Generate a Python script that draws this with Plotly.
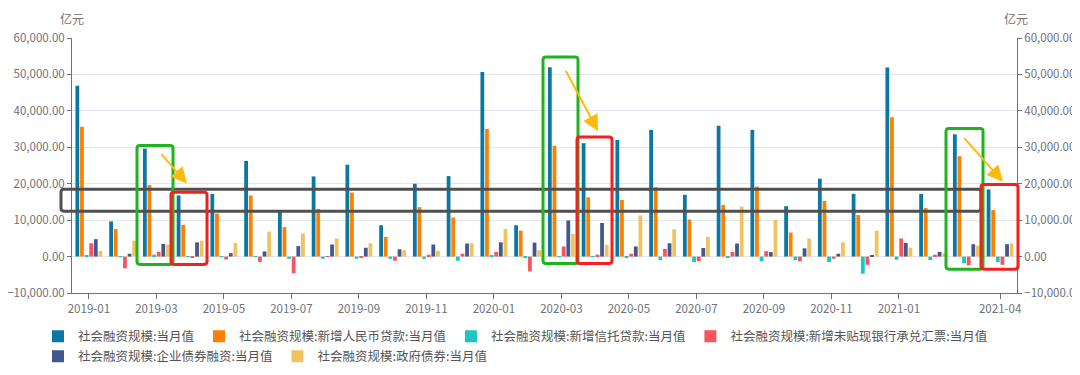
import plotly.graph_objects as go

months = ["2019-01", "2019-02", "2019-03", "2019-04", "2019-05", "2019-06", "2019-07",
          "2019-08", "2019-09", "2019-10", "2019-11", "2019-12", "2020-01", "2020-02",
          "2020-03", "2020-04", "2020-05", "2020-06", "2020-07", "2020-08", "2020-09",
          "2020-10", "2020-11", "2020-12", "2021-01", "2021-02", "2021-03", "2021-04"]

tsf = [46900, 9650, 29650, 16780, 17200, 26260, 12780, 22000, 25220, 8600, 20000, 22090,
       50700, 8600, 52000, 31130, 32000, 34780, 16960, 35910, 34780, 13830, 21390, 17220,
       51910, 17220, 33570, 18430]
rmb_loans = [35650, 7570, 19650, 8700, 11830, 16780, 8090, 13040, 17570, 5390, 13560, 10700,
             35040, 7130, 30430, 16260, 15570, 19040, 10170, 14170, 19220, 6610, 15300, 11390,
             38260, 13300, 27570, 12780]
trust_loans = [350, -40, 520, -100, -100, -50, -600, -600, -600, -600, -600, -1130,
               350, -430, -50, -40, -260, -960, -1480, -260, -1300, -960, -1480, -4700,
               -870, -960, -1830, -1480]
bank_bills = [3650, -3220, 1300, -300, -800, -1480, -4610, 150, -400, -1130, 520, 780,
              1300, -4090, 2780, 520, 780, 2090, -1220, 1300, 1480, -1300, -600, -2260,
              4960, 520, -2430, -2260]
corp_bonds = [4780, 780, 3480, 3900, 950, 1390, 2870, 3300, 2430, 2000, 3300, 3570,
              3910, 3830, 9910, 9220, 2780, 3650, 2350, 3570, 1220, 2260, 780, 430,
              3740, 1300, 3390, 3390]
gov_bonds = [1570, 4350, 3300, 4350, 3740, 6870, 6350, 4960, 3650, 1740, 1570, 3650,
             7570, 1740, 6260, 3220, 11300, 7480, 5390, 13740, 10090, 4960, 3910, 7130,
             2430, 870, 2960, 3650]

series_names = ["社会融资规模:当月值", "社会融资规模:新增人民币贷款:当月值",
                "社会融资规模:新增信托贷款:当月值", "社会融资规模:新增未贴现银行承兑汇票:当月值",
                "社会融资规模:企业债券融资:当月值", "社会融资规模:政府债券:当月值"]
series_values = [tsf, rmb_loans, trust_loans, bank_bills, corp_bonds, gov_bonds]
colors = ["#0A78A3", "#FF8000", "#1DC4C4", "#F7545E", "#42578C", "#EFC35E"]
legend_rows = ["legend", "legend", "legend", "legend", "legend2", "legend2"]

tick_months = ["2019-01", "2019-03", "2019-05", "2019-07", "2019-09", "2019-11", "2020-01",
               "2020-03", "2020-05", "2020-07", "2020-09", "2020-11", "2021-01", "2021-04"]
y_ticks = [-10000, 0, 10000, 20000, 30000, 40000, 50000, 60000]
unit = "亿元"

FONT = "Noto Sans CJK SC, Microsoft YaHei, sans-serif"
GREY = "#6E7079"

fig = go.Figure()
for name, vals, col, lg in zip(series_names, series_values, colors, legend_rows):
    fig.add_trace(go.Bar(x=months, y=vals, name=name, legend=lg,
                         marker=dict(color=col, line=dict(width=0))))

# invisible trace to anchor right axis
fig.add_trace(go.Scatter(x=months, y=tsf, yaxis="y2", mode="none", showlegend=False,
                         hoverinfo="skip"))

# pixel geometry of plot area
W, H = 1080, 375
L, R, T, B = 64, 71, 30, 77
PW, PH = W - L - R, H - T - B


def px(x):
    return (x - L) / PW


def py(y):
    return (H - B - y) / PH


def rrect(x0, y0, x1, y1, color, width, r=3):
    X0, X1 = px(x0), px(x1)
    Y0, Y1 = py(y0), py(y1)
    rx, ry = r / PW, r / PH
    path = (f"M{X0+rx},{Y0} L{X1-rx},{Y0} Q{X1},{Y0} {X1},{Y0-ry} "
            f"L{X1},{Y1+ry} Q{X1},{Y1} {X1-rx},{Y1} "
            f"L{X0+rx},{Y1} Q{X0},{Y1} {X0},{Y1+ry} "
            f"L{X0},{Y0-ry} Q{X0},{Y0} {X0+rx},{Y0} Z")
    return dict(type="path", path=path, xref="paper", yref="paper",
                line=dict(color=color, width=width), layer="above")


GREEN = "#1EB41E"
RED = "#F51F1F"
DARK = "#505050"
shapes = [
    rrect(53, 189, 973, 212, DARK, 3),
    rrect(129, 143, 165, 268, GREEN, 3),
    rrect(163, 192, 199, 268, RED, 3),
    rrect(535, 50, 570, 267, GREEN, 3),
    rrect(569, 134, 604, 267, RED, 3),
    rrect(938, 125, 975, 273, GREEN, 3),
    rrect(973, 184, 1010, 273, RED, 3),
]

ARROW = "#FDBA0A"
arrows = [((179, 183), (152, 152)), ((590, 128), (557, 66)), ((995, 181), (955, 136))]
annotations = []
for (tx, ty), (sx, sy) in arrows:
    annotations.append(dict(x=px(tx), y=py(ty), xref="paper", yref="paper", text="",
                            showarrow=True, ax=sx - tx, ay=sy - ty, arrowhead=2,
                            arrowsize=1.6, arrowwidth=2, arrowcolor=ARROW))

annotations.append(dict(x=px(64), y=py(9), xref="paper", yref="paper", text=unit,
                        showarrow=False, font=dict(size=12, color=GREY, family=FONT),
                        xanchor="center", yanchor="middle"))
annotations.append(dict(x=px(1008), y=py(9), xref="paper", yref="paper", text=unit,
                        showarrow=False, font=dict(size=12, color=GREY, family=FONT),
                        xanchor="center", yanchor="middle"))

yax = dict(range=[-10000, 60000], tickvals=y_ticks, tickformat=",.2f", automargin=False,
           showgrid=True, gridcolor="#E3E6EE", gridwidth=1, zeroline=False,
           showline=True, linecolor=GREY, linewidth=1, ticks="outside", ticklen=4,
           tickcolor=GREY, tickfont=dict(size=11.5, color=GREY, family=FONT))

legend_common = dict(orientation="h", xanchor="left", yanchor="top",
                     font=dict(size=12.5, color="#555", family=FONT),
                     itemsizing="constant", bgcolor="rgba(0,0,0,0)")

fig.update_layout(
    width=W, height=H,
    margin=dict(l=L, r=R, t=T, b=B),
    plot_bgcolor="white", paper_bgcolor="white",
    barmode="group", bargap=0.18, bargroupgap=0.18,
    font=dict(family=FONT, size=12, color=GREY),
    xaxis=dict(type="category", categoryorder="array", categoryarray=months,
               tickvals=tick_months, ticktext=tick_months, automargin=False,
               showline=True, linecolor=GREY, linewidth=1, ticks="outside", ticklen=5,
               tickcolor=GREY, showgrid=False, tickfont=dict(size=11.5, color=GREY, family=FONT)),
    yaxis=yax,
    yaxis2=dict(yax, overlaying="y", side="right", showgrid=False),
    legend=dict(legend_common, x=px(30), y=py(328)),
    legend2=dict(legend_common, x=px(30), y=py(349)),
    shapes=shapes,
    annotations=annotations,
    showlegend=True,
)

fig.write_html("out.html")
